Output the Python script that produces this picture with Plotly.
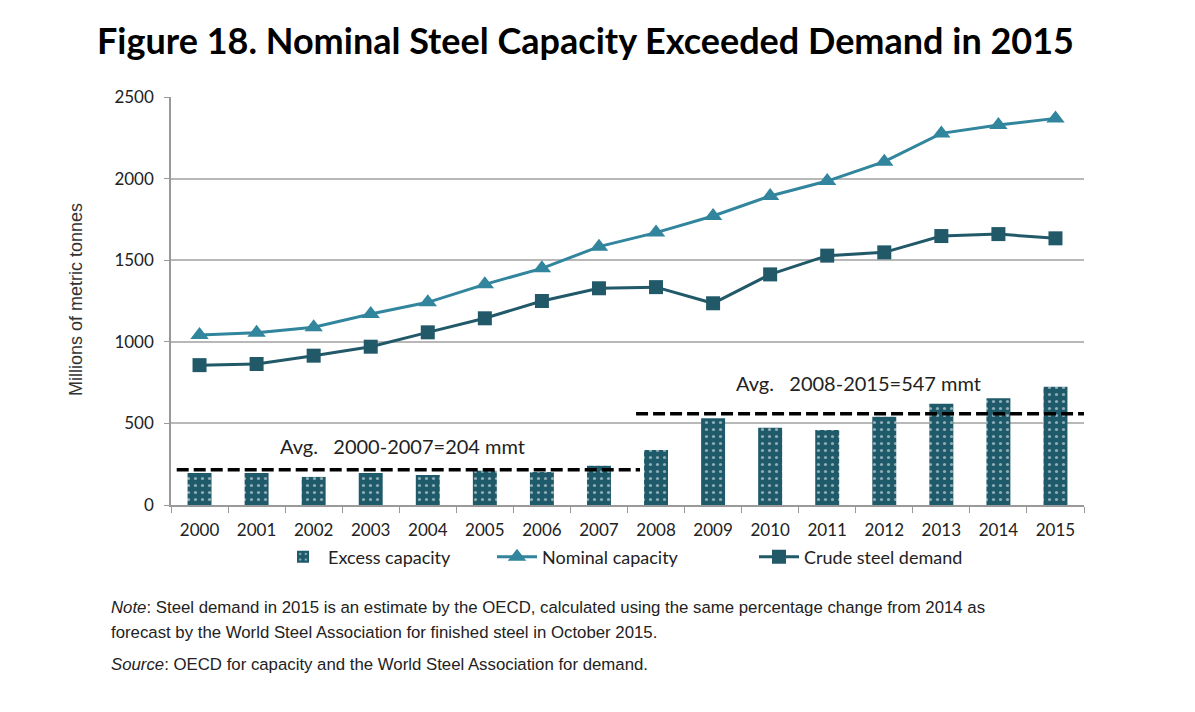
import plotly.graph_objects as go

years = list(range(2000, 2016))
nominal_capacity = [1042, 1056, 1089, 1170, 1242, 1352, 1450, 1583, 1669, 1771, 1893, 1985, 2104, 2277, 2328, 2369]
crude_demand = [857, 864, 915, 970, 1058, 1144, 1250, 1328, 1335, 1236, 1413, 1528, 1548, 1648, 1660, 1634]
excess_capacity = [196, 196, 172, 196, 184, 210, 202, 241, 337, 531, 474, 460, 541, 621, 654, 725]
avg_periods = ["2000-2007", "2008-2015"]
avg_values = [204, 547]
avg_spans = [(1999.6, 2007.72), (2007.65, 2015.62)]

C_BAR = "#1f5a6a"
C_NOM = "#31859c"
C_DEM = "#215968"
GRID = "#b8b8b8"
AX = "#999999"

OFF = 8  # page body margin
W, H = 1195 - 2 * OFF, 712 - 2 * OFF
L, R, T, B = 171, 1084, 97, 505  # plot area in reference (screen) pixels


def px(x):
    return (x - L) / (R - L)


def py(y):
    return (B - y) / (B - T)


fig = go.Figure()
fig.add_trace(go.Bar(
    x=years, y=excess_capacity, name="Excess capacity", width=0.42, legend="legend",
    marker=dict(color=C_BAR, line=dict(width=0),
                pattern=dict(shape=".", fgcolor="white", bgcolor=C_BAR, size=7, solidity=0.16, fillmode="overlay")),
))
fig.add_trace(go.Scatter(
    x=years, y=nominal_capacity, name="Nominal capacity", mode="lines+markers", legend="legend2",
    line=dict(color=C_NOM, width=3), marker=dict(symbol="triangle-up", size=16, color=C_NOM),
))
fig.add_trace(go.Scatter(
    x=years, y=crude_demand, name="Crude steel demand", mode="lines+markers", legend="legend3",
    line=dict(color=C_DEM, width=3), marker=dict(symbol="square", size=14, color=C_DEM),
))

for (x0, x1), v in zip(avg_spans, avg_values):
    fig.add_shape(type="line", xref="x", yref="y", x0=x0, x1=x1, y0=v + 12, y1=v + 12,
                  line=dict(color="black", width=3.5, dash="12px,5px"))

avg_font = dict(family="Lato", size=20, color="#222")
annos = [
    dict(x=2003.55, y=py(446), xref="x", yref="paper", xanchor="center", yanchor="middle",
         text=f"Avg.&nbsp;&nbsp;&nbsp;{avg_periods[0]}={avg_values[0]} mmt", showarrow=False, font=avg_font),
    dict(x=2011.55, y=py(383), xref="x", yref="paper", xanchor="center", yanchor="middle",
         text=f"Avg.&nbsp;&nbsp;&nbsp;{avg_periods[1]}={avg_values[1]} mmt", showarrow=False, font=avg_font),
    dict(x=px(76), y=py(300), xref="paper", yref="paper", xanchor="center", yanchor="middle",
         text="Millions of metric tonnes", textangle=-90, showarrow=False,
         font=dict(family="Liberation Sans, Arial", size=18, color="#333")),
    dict(x=px(585), y=py(40), xref="paper", yref="paper", xanchor="center", yanchor="middle",
         text="<b>Figure 18. Nominal Steel Capacity Exceeded Demand in 2015</b>",
         showarrow=False, font=dict(family="Lato", size=36, color="black")),
]
note_font = dict(family="Liberation Sans, Arial", size=16.8, color="#222")
notes = [
    (607, "<i>Note</i>: Steel demand in 2015 is an estimate by the OECD, calculated using the same percentage change from 2014 as"),
    (632, "forecast by the World Steel Association for finished steel in October 2015."),
    (664, "<i>Source</i>: OECD for capacity and the World Steel Association for demand."),
]
for yy, txt in notes:
    annos.append(dict(x=px(109), y=py(yy), xref="paper", yref="paper", xanchor="left", yanchor="middle",
                      text=txt, showarrow=False, font=note_font))

leg_font = dict(family="Lato", size=18, color="#222")
leg_common = dict(orientation="h", yanchor="middle", y=py(557), xanchor="left", font=leg_font,
                  itemwidth=40, bgcolor="rgba(0,0,0,0)", borderwidth=0)

fig.update_layout(
    width=W, height=H,
    margin=dict(l=L - OFF, r=W - (R - OFF), t=T - OFF, b=H - (B - OFF), autoexpand=False),
    plot_bgcolor="white", paper_bgcolor="white",
    showlegend=True,
    legend=dict(x=px(278), **leg_common),
    legend2=dict(x=px(492), **leg_common),
    legend3=dict(x=px(754), **leg_common),
    annotations=annos,
)
fig.update_xaxes(
    range=[1999.5, 2015.5], tickvals=years, ticktext=[str(y) for y in years], ticks="",
    showline=True, linecolor=AX, linewidth=1.5, showgrid=False, zeroline=False,
    tickfont=dict(family="Lato", size=17, color="#222"), ticklabelstandoff=9,
    minor=dict(tickmode="linear", tick0=1999.5, dtick=1, ticks="outside", ticklen=6, tickcolor=AX, showgrid=False),
)
fig.update_yaxes(
    range=[0, 2500], tickvals=[0, 500, 1000, 1500, 2000, 2500], ticks="outside", ticklen=5, tickcolor=AX,
    showline=True, linecolor=AX, linewidth=1.5, showgrid=True, gridcolor=GRID, gridwidth=1.5, zeroline=False,
    tickfont=dict(family="Lato", size=17, color="#222"), ticklabelstandoff=7,
)

fig.write_html("out.html")
